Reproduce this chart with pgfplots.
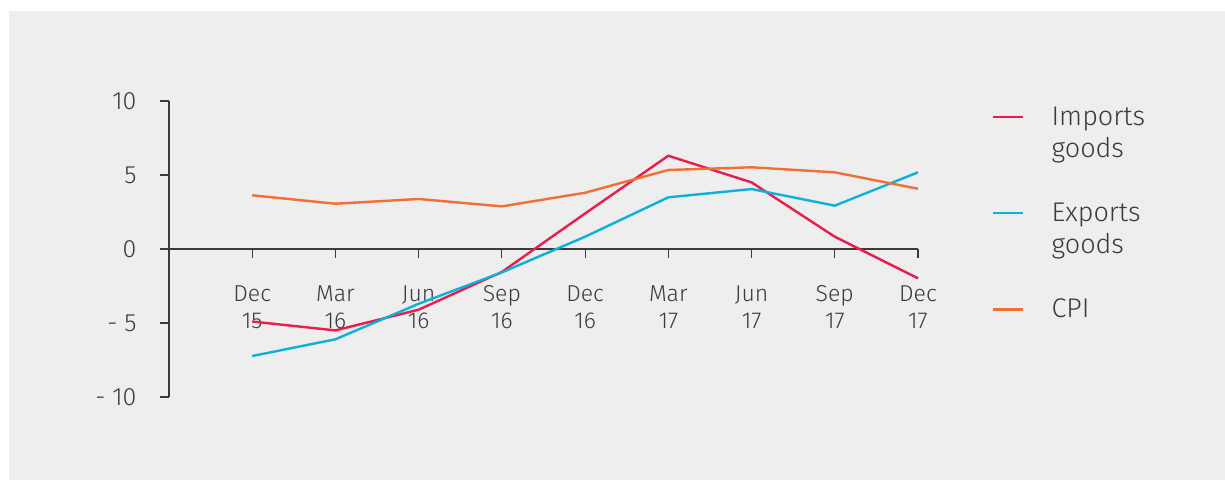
\documentclass[border=0pt]{standalone}
\usepackage{amsmath}
\usepackage{fontspec}
\setmainfont{Fira Sans Light}
\usepackage{pgfplots}
\pgfplotsset{compat=1.18}

\definecolor{panel}{RGB}{238,238,238}
\definecolor{txt}{RGB}{58,58,58}
\definecolor{imp}{RGB}{234,28,76}
\definecolor{exp}{RGB}{12,176,216}
\definecolor{cpi}{RGB}{242,110,50}

\begin{document}
\begin{tikzpicture}
% page and grey panel (1 px = 1 pt), axis box corner at (0,0)
\useasboundingbox (-169pt,-83pt) rectangle (1056pt,397pt);
\fill[panel] (-160pt,-83pt) rectangle (1056pt,386pt);

\begin{axis}[
  scale only axis,
  width=749pt, height=296pt,
  xmin=-1, xmax=8,
  ymin=-10, ymax=10,
  axis y line=left,
  axis x line=middle,
  axis line style={txt, line width=1.2pt, -},
  tick style={txt, line width=1.2pt},
  major tick length=9pt,
  tick align=outside,
  xtick={0,...,8},
  xticklabels={Dec\\15,Mar\\16,Jun\\16,Sep\\16,Dec\\16,Mar\\17,Jun\\17,Sep\\17,Dec\\17},
  xticklabel style={font=\fontsize{23}{27}\selectfont, text=txt, align=center, yshift=-24pt},
  ytick={-10,-5,0,5,10},
  yticklabels={- 10,- 5,0,5,10},
  yticklabel style={font=\fontsize{25}{30}\selectfont, text=txt, xshift=-20pt},
  legend style={
    at={(1,1)}, anchor=north west, xshift=71pt, yshift=-2pt,
    draw=none, fill=none,
    font=\fontsize{27}{32}\selectfont, text=txt,
    row sep=72pt, column sep=25pt,
  },
  legend cell align=left,
  legend image code/.code={\draw[#1] (0pt,0pt) -- (30pt,0pt);},
  clip=false,
]
\addplot[imp, line width=2.4pt] coordinates {
  (0,-4.9) (1,-5.5) (2,-4.1) (3,-1.55) (4,2.4) (5,6.3) (6,4.5) (7,0.83) (8,-1.98)
};
\addlegendentry{\smash[b]{\parbox[t]{4cm}{Imports\\goods}}}
\addplot[exp, line width=2.4pt] coordinates {
  (0,-7.23) (1,-6.1) (2,-3.7) (3,-1.58) (4,0.83) (5,3.49) (6,4.05) (7,2.93) (8,5.18)
};
\addlegendentry{\smash[b]{\parbox[t]{4cm}{Exports\\goods}}}
\addplot[cpi, line width=2.4pt] coordinates {
  (0,3.63) (1,3.06) (2,3.38) (3,2.88) (4,3.8) (5,5.34) (6,5.52) (7,5.18) (8,4.07)
};
\addlegendentry{CPI}
\end{axis}
\end{tikzpicture}
\end{document}
